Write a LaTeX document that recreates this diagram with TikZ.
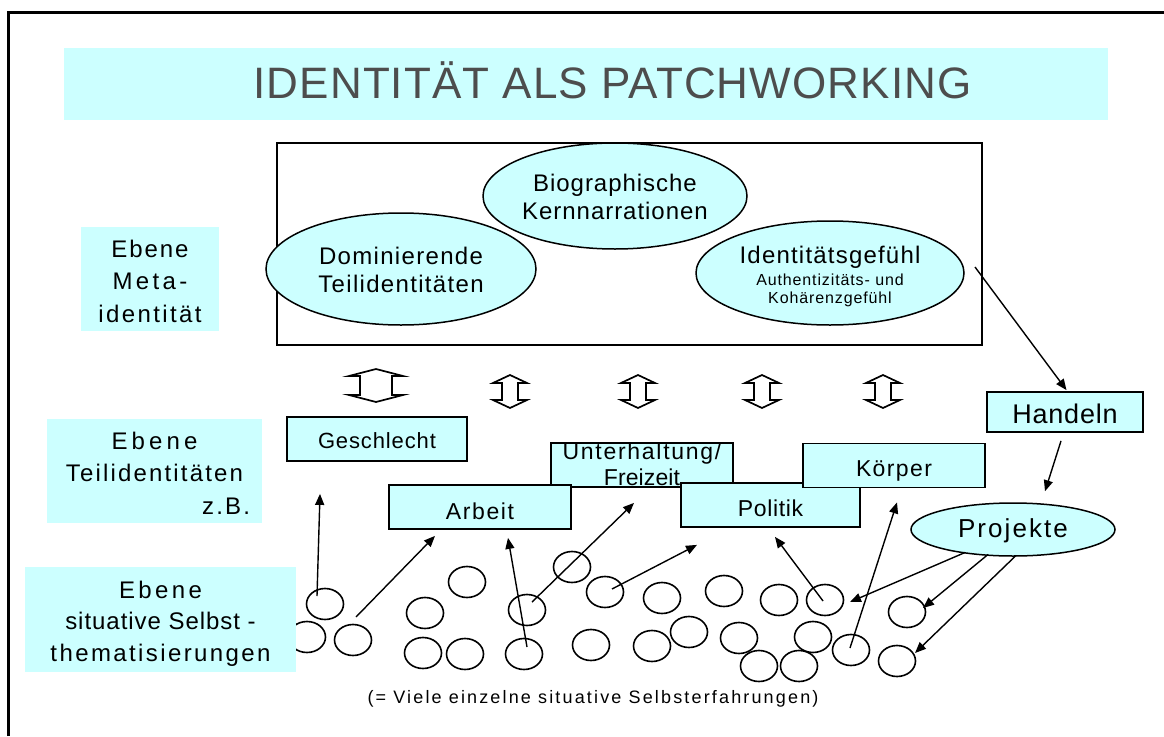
\documentclass[tikz,border=0pt]{standalone}
\usepackage{fontspec}
\setmainfont{Liberation Sans}
\usetikzlibrary{shapes.geometric,arrows.meta}
\definecolor{cy}{HTML}{CCFFFF}
\definecolor{tgray}{HTML}{4D4D4D}
\newcommand\fsz[3]{\fontsize{#1}{#2}\selectfont\addfontfeature{LetterSpace=#3}}
\newcommand\lsp[1]{\addfontfeature{LetterSpace=#1}}
\begin{document}
\begin{tikzpicture}[x=1pt,y=-1pt,
  cbox/.style={draw=black, fill=cy, line width=1.8pt, inner sep=0pt, text depth=0pt},
  lblbox/.style={fill=cy, inner sep=0pt, text depth=0pt},
  ell/.style={ellipse, draw=black, fill=cy, line width=1.5pt, inner xsep=-60pt, inner ysep=-30pt, text depth=0pt},
  circ/.style={ellipse, draw=black, line width=1.6pt, minimum width=37pt, minimum height=31pt, inner sep=0pt},
  arr/.style={line width=1.4pt, -{Triangle[length=11pt,width=9pt]}},
  dblarr/.style={draw=black, fill=white, line width=1.7pt, line join=miter}
]
\useasboundingbox (0,0) rectangle (1164,736);
% frame
\draw[line width=3pt] (8.5,736) -- (8.5,12.5) -- (1164,12.5);
% title
\node[lblbox, minimum width=1044pt, minimum height=72pt] (titlebox) at (586,84) {};
\node[anchor=base, text=tgray, inner sep=0pt] (title) at (612.5,98) {\fsz{44}{50}{2.5}IDENTITÄT ALS PATCHWORKING};
% meta level
\node[draw=black, line width=1.3pt, minimum width=705pt, minimum height=202pt, inner sep=0pt] (metabox) at (629.5,244) {};
\node[ell, minimum width=264pt, minimum height=106pt, text height=46pt] (bio) at (615,196)
  {\fsz{24}{28}{4}\begin{tabular}[b]{@{}c@{}}Biographische\\Kernnarrationen\end{tabular}};
\node[ell, minimum width=270pt, minimum height=112pt, text height=46pt] (dom) at (401,269)
  {\fsz{24}{28}{5.5}\begin{tabular}[b]{@{}c@{}}Dominierende\\Teilidentitäten\end{tabular}};
\node[ell, minimum width=268pt, minimum height=104pt, text height=60pt] (idg) at (830,273)
  {\fsz{16}{18}{5.5}\begin{tabular}[b]{@{}c@{}}{\fontsize{24}{28}\selectfont\lsp{5}Identitätsgefühl}\\[4pt]Authentizitäts- und\\Kohärenzgefühl\end{tabular}};
% left labels
\node[lblbox, minimum width=138pt, minimum height=104pt, text height=86pt] (lmeta) at (150,279)
  {\fsz{24}{32.5}{10}\begin{tabular}[b]{@{}c@{}}{\lsp{8}Ebene}\\{\lsp{14}Meta-}\\identität\end{tabular}};
\node[lblbox, minimum width=215pt, minimum height=104pt, text height=86pt] (lteil) at (154.5,471)
  {\fsz{24}{32.5}{9}\begin{tabular}[b]{@{}c@{}}{\lsp{17}Ebene}\\Teilidentitäten\\\multicolumn{1}{@{}r@{}}{z.B.\hspace*{-7pt}}\end{tabular}};
% double arrows
\begin{scope}[shift={(376,369)}]
\draw[dblarr] (-27,7) -- (0,0) -- (27,7) -- (16,7) -- (16,26) -- (27,26) -- (0,33) -- (-27,26) -- (-16,26) -- (-16,7) -- cycle;
\end{scope}
\foreach \cx in {510,638,762,883}{
\begin{scope}[shift={(\cx,375)}]
\draw[dblarr] (-17,8) -- (0,0) -- (17,8) -- (8,8) -- (8,25) -- (17,25) -- (0,33) -- (-17,25) -- (-8,25) -- (-8,8) -- cycle;
\end{scope}}
% circles
\foreach \n/\x/\y in {1/325/604,2/307/637,3/353/640,4/467/582,5/425/613,6/423/653,7/465/654,8/527/610,9/524/654,10/572/567,11/605/592,12/591/645,13/662/598,14/724/591,15/779/600,16/825/600,17/907/612,18/652/646,19/689/632,20/739/638,21/813/637,22/851/650,23/759/666,24/799/666,25/897/661}
  \node[circ] (c\n) at (\x,\y) {};
\node[lblbox, minimum width=271pt, minimum height=105pt, text height=83pt] (lsit) at (160.5,619.5)
  {\fsz{24}{31.5}{10}\begin{tabular}[b]{@{}c@{}}{\lsp{14}Ebene}\\{\lsp{4}situative Selbst -}\\thematisierungen\end{tabular}};
% partial identity boxes
\node[cbox, minimum width=180pt, minimum height=44pt, text height=18pt] (gesch) at (377,439) {\fsz{22}{24}{4}Geschlecht};
\node[cbox, minimum width=182pt, minimum height=44pt, text height=40pt] (unter) at (642,465)
  {\fsz{23}{26}{7.5}\begin{tabular}[b]{@{}c@{}}Unterhaltung/\\{\lsp{0.5}Freizeit}\end{tabular}};
\node[cbox, minimum width=182pt, minimum height=44pt, text height=24pt] (arbeit) at (480,507) {\fsz{23}{24}{7}Arbeit};
\node[cbox, minimum width=179pt, minimum height=44pt, text height=22pt] (politik) at (770.5,505) {\fsz{23}{24}{3}Politik};
\node[cbox, minimum width=182pt, minimum height=44pt, text height=21pt] (koerper) at (894,465.5) {\fsz{23}{24}{6}Körper};
\node[cbox, minimum width=156pt, minimum height=40pt, text height=22pt] (handeln) at (1065,412) {\fsz{27}{28}{3}Handeln};
\node[ell, minimum width=204pt, minimum height=53pt, text height=15pt] (proj) at (1013,529.5) {\fsz{26}{28}{8}Projekte};
% arrows
\draw[arr] ([shift={(-8,-8)}]c1.center) -- ([shift={(-57,32)}]gesch.south);
\draw[arr] ([shift={(3,-23)}]c3.center) -- ([shift={(-45,6)}]arbeit.south);
\draw[arr] ([shift={(3,-7)}]c9.center) -- ([shift={(28,8)}]arbeit.south);
\draw[arr] ([shift={(5,-8)}]c8.center) -- ([shift={(-8,15)}]unter.south);
\draw[arr] ([shift={(7,-3)}]c11.center) -- ([shift={(-73.5,17)}]politik.south);
\draw[arr] ([shift={(-2,1)}]c16.center) -- ([shift={(4.5,9)}]politik.south);
\draw[arr] ([shift={(-1,-2)}]c22.center) -- ([shift={(3,14)}]koerper.south);
\draw[arr] ([shift={(-48,23)}]proj.center) -- ([shift={(25,2)}]c16.center);
\draw[arr] ([shift={(-25,25)}]proj.center) -- ([shift={(16,-4)}]c17.center);
\draw[arr] ([shift={(3,26)}]proj.center) -- ([shift={(18,-8)}]c25.center);
\draw[arr] ([shift={(145,-6)}]idg.center) -- ([shift={(1.5,-1)}]handeln.north);
\draw[arr] ([shift={(-4,8)}]handeln.south) -- ([shift={(32,-11)}]proj.north);
% note
\node[anchor=base, inner sep=0pt] (note) at (593,703) {\fsz{18}{20}{12}(= Viele einzelne situative Selbsterfahrungen)};
\end{tikzpicture}
\end{document}
